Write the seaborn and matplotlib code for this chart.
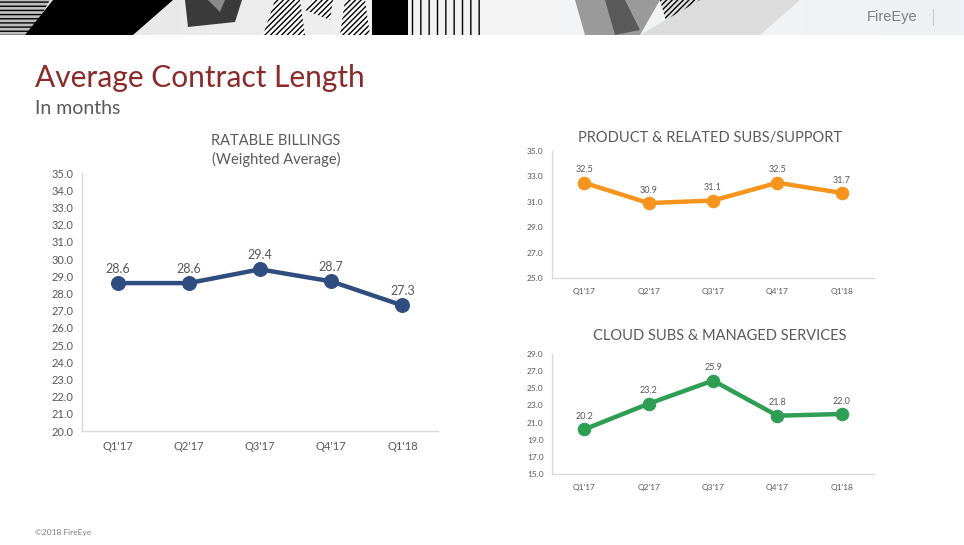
import numpy as np
import pandas as pd
import matplotlib
matplotlib.use('Agg')
import matplotlib.pyplot as plt
from matplotlib.patches import Polygon
import seaborn as sns

# data
quarters = ["Q1'17", "Q2'17", "Q3'17", "Q4'17", "Q1'18"]
ratable = [28.6, 28.6, 29.4, 28.7, 27.3]
product = [32.5, 30.9, 31.1, 32.5, 31.7]
cloud = [20.2, 23.2, 25.9, 21.8, 22.0]

sns.set_style('white')
plt.rcParams['font.family'] = ['Lato', 'DejaVu Sans']

TXT = '#595959'
AXC = '#D9D9D9'

W, H = 964, 545
fig = plt.figure(figsize=(W / 100, H / 100), dpi=100)


def px_axes(x0, y0, x1, y1):
    # pixel box (top-left origin) -> figure axes
    return fig.add_axes([x0 / W, 1 - y1 / H, (x1 - x0) / W, (y1 - y0) / H])


# ---- banner strip at top (decorative) ----
ban = px_axes(0, 0, W, 35)
ban.set_xlim(0, W)
ban.set_ylim(35, 0)
ban.axis('off')
grad = np.linspace(0, 1, 256)[None, :]
ban.imshow(np.vstack([grad, grad]), extent=[0, W, 35, 0], aspect='auto',
           cmap=matplotlib.colors.LinearSegmentedColormap.from_list('b', ['#e4e4e4', '#f4f4f4', '#eef1f5']))
shapes = [
    ([(0, 0), (50, 0), (30, 35), (0, 35)], '#bdbdbd', '----'),
    ([(53, 0), (173, 0), (133, 35), (25, 35)], 'black', None),
    ([(40, 18), (90, 10), (80, 35), (30, 35)], 'black', '////'),
    ([(185, 0), (242, 0), (235, 22), (188, 27)], '#3a3a3a', None),
    ([(208, 0), (225, 0), (220, 12)], '#8a8a8a', None),
    ([(263, 35), (275, 0), (300, 0), (305, 35)], 'white', '//////'),
    ([(305, 10), (312, 0), (333, 0), (330, 20)], 'white', '//////'),
    ([(340, 35), (345, 0), (365, 0), (370, 35)], 'white', '//////'),
    ([(372, 0), (408, 0), (408, 35), (372, 35)], 'black', None),
    ([(410, 0), (480, 0), (480, 35), (410, 35)], '#f2f2f2', '||'),
    ([(575, 0), (660, 0), (640, 35), (585, 35)], '#9a9a9a', None),
    ([(605, 0), (625, 0), (640, 30), (615, 35)], '#5a5a5a', None),
    ([(660, 0), (700, 0), (690, 25), (670, 35)], '#e0e0e0', '//////'),
    ([(700, 0), (800, 0), (760, 35), (640, 35)], '#dcdcdc', None),
]
for pts, col, hatch in shapes:
    ban.add_patch(Polygon(pts, closed=True, facecolor=col, edgecolor='black' if hatch else col,
                          hatch=hatch, linewidth=0))
ban.text(892, 17, 'FireEye', fontsize=10.5, color='#7f7f7f', ha='center', va='center',
         family=['Liberation Sans', 'DejaVu Sans'])
ban.plot([933, 933], [9, 25], color='#c8c8c8', lw=0.8)

# ---- slide titles ----
fig.text(35 / W, 1 - 78 / H, 'Average Contract Length', fontsize=21.5, color='#8B2A2A', va='center')
fig.text(35 / W, 1 - 108 / H, 'In months', fontsize=14, color=TXT, va='center')
fig.text(35 / W, 1 - 532 / H, '\u00a92018 FireEye', fontsize=6, color='#7f7f7f', va='center')


def style(ax, lo, hi, step, tick_fs):
    ax.set_ylim(lo, hi)
    ax.set_xlim(-0.5, 4.5)
    ax.set_yticks(np.arange(lo, hi + 0.01, step))
    ax.yaxis.set_major_formatter(matplotlib.ticker.FormatStrFormatter('%.1f'))
    sns.despine(ax=ax)
    for s in ['left', 'bottom']:
        ax.spines[s].set_color(AXC)
        ax.spines[s].set_linewidth(1)
    ax.tick_params(axis='y', colors=TXT, labelsize=tick_fs, length=3, color=AXC, pad=3)
    ax.tick_params(axis='x', colors=TXT, labelsize=tick_fs, length=0, pad=7)
    ax.set_xlabel('')
    ax.set_ylabel('')
    for lab in ax.get_xticklabels() + ax.get_yticklabels():
        lab.set_color(TXT)


def draw(ax, vals, color, lw, ms, lab_fs, off):
    df = pd.DataFrame({'quarter': quarters, 'value': vals})
    sns.lineplot(data=df, x='quarter', y='value', ax=ax, color=color, linewidth=lw,
                 marker='o', markersize=ms, markeredgecolor=color, sort=False)
    for i, v in enumerate(vals):
        ax.annotate(f'{v:.1f}', (i, v), xytext=(0, off), textcoords='offset points',
                    ha='center', va='bottom', fontsize=lab_fs, color=TXT)


# ---- left chart: ratable billings ----
ax1 = px_axes(82, 173, 438, 431)
draw(ax1, ratable, '#2F4D7E', 3.2, 10, 9, 6)
style(ax1, 20, 35, 1, 8)
fig.text(276 / W, 1 - 141 / H, 'RATABLE BILLINGS', ha='center', va='center',
         fontsize=10.5, color=TXT)
fig.text(276 / W, 1 - 159 / H, '(Weighted Average)', ha='center', va='center',
         fontsize=10.5, color=TXT)

# ---- top right: product & related ----
ax2 = px_axes(552, 151, 874, 278)
draw(ax2, product, '#F7941D', 3.2, 9, 6.5, 6)
style(ax2, 25, 35, 2, 6)
fig.text(710 / W, 1 - 138 / H, 'PRODUCT & RELATED SUBS/SUPPORT', ha='center', va='center',
         fontsize=10.5, color=TXT)

# ---- bottom right: cloud subs ----
ax3 = px_axes(552, 354, 874, 474)
draw(ax3, cloud, '#2E9E54', 3.2, 9, 6.5, 6)
style(ax3, 15, 29, 2, 6)
fig.text(720 / W, 1 - 336 / H, 'CLOUD SUBS & MANAGED SERVICES', ha='center', va='center',
         fontsize=10.5, color=TXT)

fig.savefig('out.png', dpi=100)
